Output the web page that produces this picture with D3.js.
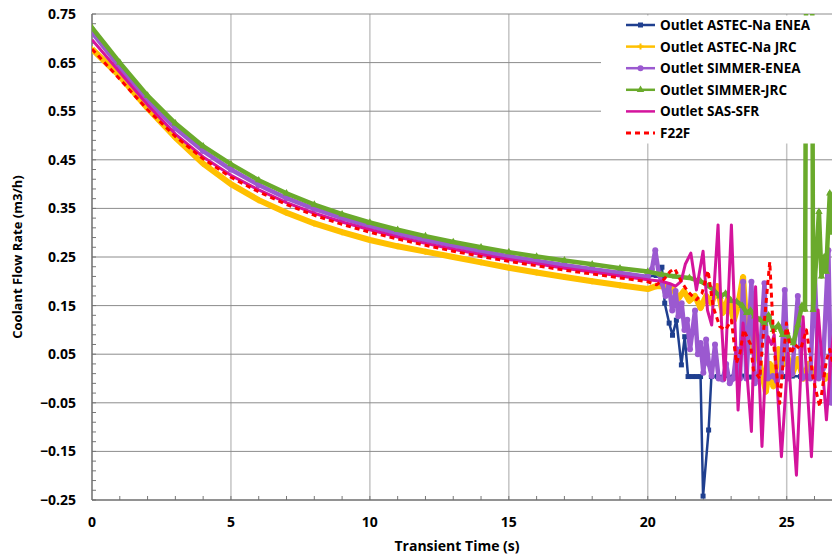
<!DOCTYPE html>
<html>
<head>
<meta charset="utf-8">
<script src="https://cdn.jsdelivr.net/npm/d3@7"></script>
<style>
  body { margin: 0; background: #fff; }
  text { font-family: "Open Sans", "DejaVu Sans", sans-serif; font-weight: 700; fill: #000; }
</style>
</head>
<body>
<svg width="832" height="554"></svg>
<script>
// tick values
const xTicks = [0, 5, 10, 15, 20, 25];
const yTicks = [-0.25, -0.15, -0.05, 0.05, 0.15, 0.25, 0.35, 0.45, 0.55, 0.65, 0.75];

// series data, [time (s), flow (m3/h)]
const astecEnea = [
  [0, 0.713], [1, 0.642], [2, 0.574], [3, 0.516], [4, 0.469], [5, 0.431], [6, 0.399], [7, 0.372],
  [8, 0.350], [9, 0.331], [10, 0.314], [11, 0.299], [12, 0.286], [13, 0.274], [14, 0.263], [15, 0.252],
  [16, 0.243], [17, 0.234], [18, 0.226], [19, 0.218], [20, 0.210], [20.3, 0.212], [20.51, 0.229],
  [20.61, 0.155], [20.77, 0.114], [20.89, 0.089], [21.03, 0.120], [21.21, 0.028], [21.33, 0.086],
  [21.45, 0.004], [21.6, 0.004], [21.75, 0.004], [21.9, 0.004], [21.99, -0.242], [22.19, -0.106],
  [22.29, 0.004], [22.5, 0.004], [22.8, 0.006], [23.1, 0.004], [23.4, 0.005], [23.7, 0.003],
  [24.0, 0.005], [24.3, 0.004], [24.6, 0.006], [24.9, 0.004], [25.2, 0.005], [25.5, 0.004],
  [25.8, 0.005], [26.1, 0.004], [26.4, 0.005], [26.7, 0.004]
];
const astecJrc = [
  [0, 0.678], [1, 0.622], [2, 0.556], [3, 0.496], [4, 0.442], [5, 0.400], [6, 0.367], [7, 0.341],
  [8, 0.319], [9, 0.301], [10, 0.285], [11, 0.272], [12, 0.261], [13, 0.250], [14, 0.239], [15, 0.228],
  [16, 0.218], [17, 0.209], [18, 0.200], [19, 0.192], [20, 0.184], [20.3, 0.19], [20.6, 0.19],
  [20.9, 0.185], [21.1, 0.165], [21.3, 0.18], [21.5, 0.16], [21.7, 0.17], [21.9, 0.145], [22.1, 0.17],
  [22.3, 0.155], [22.5, 0.19], [22.7, 0.135], [22.9, 0.165], [23.1, 0.12], [23.25, 0.15], [23.43, 0.209],
  [23.55, 0.107], [23.7, 0.066], [23.85, 0.10], [24.0, 0.04], [24.25, -0.027], [24.4, 0.03],
  [24.52, -0.016], [24.7, 0.06], [24.9, 0.03], [25.0, 0.05], [25.2, 0.01], [25.4, 0.04], [25.6, 0.0],
  [25.8, 0.03], [26.0, 0.01], [26.2, 0.02], [26.4, 0.0], [26.6, 0.01]
];
const simmerEnea = [
  [0, 0.712], [1, 0.641], [2, 0.573], [3, 0.515], [4, 0.468], [5, 0.430], [6, 0.398], [7, 0.371],
  [8, 0.349], [9, 0.330], [10, 0.313], [11, 0.298], [12, 0.285], [13, 0.273], [14, 0.262], [15, 0.251],
  [16, 0.242], [17, 0.233], [18, 0.225], [19, 0.217], [20, 0.209], [20.15, 0.225], [20.27, 0.264],
  [20.4, 0.215], [20.52, 0.195], [20.64, 0.17], [20.76, 0.19], [20.88, 0.14], [21.0, 0.18], [21.1, 0.128],
  [21.22, 0.155], [21.32, 0.10], [21.42, 0.121], [21.52, 0.06], [21.6, 0.094], [21.7, 0.14], [21.8, 0.05],
  [21.9, 0.073], [22.0, 0.012], [22.1, 0.08], [22.2, 0.03], [22.3, 0.005], [22.42, 0.07], [22.55, 0.0],
  [22.7, -0.002], [22.82, 0.03], [22.95, -0.01], [23.08, 0.0], [23.2, 0.06], [23.32, 0.0], [23.43, 0.199],
  [23.55, 0.0], [23.73, 0.199], [23.85, -0.01], [24.0, 0.01], [24.2, 0.196], [24.32, 0.0], [24.5, 0.005],
  [24.65, -0.005], [24.8, 0.01], [24.93, 0.182], [25.05, 0.0], [25.2, 0.01], [25.4, 0.17], [25.55, 0.0],
  [25.7, 0.005], [25.85, 0.0], [26.0, 0.23], [26.15, 0.0], [26.3, 0.02], [26.5, 0.264], [26.6, -0.05],
  [26.7, 0.1]
];
const simmerJrc = [
  [0, 0.722], [1, 0.650], [2, 0.582], [3, 0.525], [4, 0.478], [5, 0.441], [6, 0.408], [7, 0.381],
  [8, 0.358], [9, 0.338], [10, 0.321], [11, 0.306], [12, 0.293], [13, 0.281], [14, 0.270], [15, 0.260],
  [16, 0.251], [17, 0.243], [18, 0.235], [19, 0.227], [20, 0.220], [20.5, 0.214], [21.0, 0.21],
  [21.5, 0.207], [21.9, 0.20], [22.2, 0.19], [22.4, 0.18], [22.6, 0.169], [22.8, 0.175], [23.0, 0.16],
  [23.2, 0.158], [23.4, 0.15], [23.56, 0.135], [23.7, 0.14], [23.85, 0.128], [24.04, 0.121],
  [24.2, 0.113], [24.35, 0.13], [24.52, 0.10], [24.7, 0.11], [24.85, 0.09], [25.0, 0.096], [25.1, 0.08],
  [25.24, 0.073], [25.4, 0.11], [25.55, 0.15], [25.66, 0.142], [25.72, 1.2], [25.9, 1.2], [25.95, 0.141],
  [26.16, 0.343], [26.25, 0.21], [26.35, 0.25], [26.42, 0.22], [26.55, 0.381], [26.65, 0.3]
];
const sasSfr = [
  [0, 0.697], [1, 0.630], [2, 0.563], [3, 0.503], [4, 0.456], [5, 0.418], [6, 0.388], [7, 0.362],
  [8, 0.340], [9, 0.322], [10, 0.306], [11, 0.291], [12, 0.278], [13, 0.266], [14, 0.255], [15, 0.245],
  [16, 0.236], [17, 0.227], [18, 0.219], [19, 0.211], [20, 0.203], [20.5, 0.20], [20.8, 0.195],
  [21.0, 0.19], [21.2, 0.2], [21.35, 0.235], [21.55, 0.258], [21.75, 0.182], [21.99, 0.262], [22.15, 0.14],
  [22.3, 0.11], [22.53, 0.316], [22.65, 0.12], [22.77, -0.003], [23.01, 0.316], [23.25, -0.065],
  [23.43, 0.114], [23.73, -0.109], [23.88, 0.189], [24.11, -0.14], [24.25, 0.04], [24.33, 0.086],
  [24.45, 0.07], [24.55, 0.09], [24.81, -0.161], [25.05, 0.052], [25.35, -0.199], [25.59, 0.127],
  [25.89, -0.161], [26.13, 0.141], [26.43, -0.085], [26.6, 0.05], [26.7, 0.1]
];
const f22f = [
  [0, 0.678], [1, 0.616], [2, 0.553], [3, 0.498], [4, 0.452], [5, 0.414], [6, 0.384], [7, 0.358],
  [8, 0.336], [9, 0.317], [10, 0.301], [11, 0.287], [12, 0.274], [13, 0.262], [14, 0.251], [15, 0.241],
  [16, 0.232], [17, 0.223], [18, 0.215], [19, 0.207], [20, 0.199], [20.32, 0.193], [20.6, 0.205],
  [20.8, 0.22], [20.97, 0.226], [21.2, 0.2], [21.44, 0.179], [21.6, 0.17], [21.75, 0.162], [21.95, 0.175],
  [22.17, 0.222], [22.35, 0.148], [22.59, 0.107], [22.8, 0.1], [23.01, 0.12], [23.19, 0.031],
  [23.32, 0.053], [23.45, 0.1], [23.56, 0.087], [23.7, 0.07], [23.8, 0.018], [24.03, 0.0], [24.2, 0.12],
  [24.39, 0.240], [24.55, 0.06], [24.75, -0.051], [24.99, 0.114], [25.15, 0.05], [25.3, 0.07],
  [25.5, 0.06], [25.71, 0.1], [25.95, 0.0], [26.19, -0.058], [26.43, 0.038], [26.55, 0.06], [26.7, 0.02]
];

const series = [
  { name: "Outlet ASTEC-Na ENEA", data: astecEnea, color: "#1f3f8f", width: 2.5, marker: "square" },
  { name: "Outlet ASTEC-Na JRC", data: astecJrc, color: "#ffc000", width: 6, marker: "plus" },
  { name: "Outlet SIMMER-ENEA", data: simmerEnea, color: "#9b59d0", width: 4.5, marker: "circle" },
  { name: "Outlet SIMMER-JRC", data: simmerJrc, color: "#6aaa2c", width: 4.5, marker: "triangle" },
  { name: "Outlet SAS-SFR", data: sasSfr, color: "#d4149c", width: 3, marker: null },
  { name: "F22F", data: f22f, color: "#ff0000", width: 3, marker: null, dash: "5,4" }
];

var svg = d3.select("svg"),
    plotL = 92, plotR = 832, plotT = 14, plotB = 500;

var x = d3.scaleLinear().domain([0, 26.63]).range([plotL, plotR]);
var y = d3.scaleLinear().domain([-0.25, 0.75]).range([plotB, plotT]);

svg.append("defs").append("clipPath").attr("id", "plot")
  .append("rect").attr("x", plotL).attr("y", plotT).attr("width", plotR - plotL).attr("height", plotB - plotT);

// grid
svg.append("g").selectAll("line").data(xTicks.slice(1)).enter().append("line")
  .attr("x1", d => x(d)).attr("x2", d => x(d)).attr("y1", plotT).attr("y2", plotB)
  .attr("stroke", "#c4c4c4").attr("stroke-width", 1.5);
svg.append("g").selectAll("line").data(yTicks.slice(1)).enter().append("line")
  .attr("x1", plotL).attr("x2", plotR).attr("y1", d => y(d)).attr("y2", d => y(d))
  .attr("stroke", "#8c8c8c").attr("stroke-width", 1);

// minor ticks
var yMinor = d3.range(0, 51).map(i => -0.25 + i * 0.02);
svg.append("g").selectAll("line").data(yMinor).enter().append("line")
  .attr("x1", plotL).attr("x2", plotL + 4).attr("y1", d => y(d)).attr("y2", d => y(d))
  .attr("stroke", "#777").attr("stroke-width", 1);
var xMinor = d3.range(1, 27);
svg.append("g").selectAll("line").data(xMinor).enter().append("line")
  .attr("x1", d => x(d)).attr("x2", d => x(d)).attr("y1", plotB).attr("y2", plotB - 4)
  .attr("stroke", "#777").attr("stroke-width", 1);

// axes lines
svg.append("line").attr("x1", plotL).attr("x2", plotL).attr("y1", plotT).attr("y2", plotB)
  .attr("stroke", "#6e6e6e").attr("stroke-width", 1.5);
svg.append("line").attr("x1", plotL).attr("x2", plotR).attr("y1", plotB).attr("y2", plotB)
  .attr("stroke", "#6e6e6e").attr("stroke-width", 1.5);

// tick labels
svg.append("g").selectAll("text").data(yTicks).enter().append("text")
  .attr("x", 76).attr("y", d => y(d) + 5).attr("text-anchor", "end").style("font-size", "14px")
  .text(d => d3.format(".2f")(d));
svg.append("g").selectAll("text").data(xTicks).enter().append("text")
  .attr("x", d => x(d)).attr("y", 527).attr("text-anchor", "middle").style("font-size", "14px")
  .text(d => d);

svg.append("text").attr("x", 457).attr("y", 551).attr("text-anchor", "middle")
  .style("font-size", "14px").text("Transient Time (s)");
svg.append("text").attr("transform", "translate(22,257) rotate(-90)").attr("text-anchor", "middle")
  .style("font-size", "13px").text("Coolant Flow Rate (m3/h)");

// series
var line = d3.line().x(d => x(d[0])).y(d => y(d[1]));
var plot = svg.append("g").attr("clip-path", "url(#plot)");

function drawMarker(g, type, color, px, py) {
  if (type === "square") {
    g.append("rect").attr("x", px - 2.5).attr("y", py - 2.5).attr("width", 5).attr("height", 5).attr("fill", color);
  } else if (type === "circle") {
    g.append("circle").attr("cx", px).attr("cy", py).attr("r", 3).attr("fill", color);
  } else if (type === "triangle") {
    g.append("path").attr("d", d3.symbol().type(d3.symbolTriangle).size(24)())
      .attr("transform", "translate(" + px + "," + py + ")").attr("fill", color);
  } else if (type === "plus") {
    g.append("path").attr("d", "M" + (px - 3) + "," + py + "H" + (px + 3) + "M" + px + "," + (py - 3) + "V" + (py + 3))
      .attr("stroke", color).attr("stroke-width", 2);
  }
}

series.forEach(function(s) {
  var g = plot.append("g");
  g.append("path").datum(s.data).attr("d", line).attr("fill", "none")
    .attr("stroke", s.color).attr("stroke-width", s.width)
    .attr("stroke-dasharray", s.dash || null).attr("stroke-linejoin", "round");
  if (s.marker) s.data.forEach(d => drawMarker(g, s.marker, s.color, x(d[0]), y(d[1])));
});

// legend
var legend = svg.append("g");
legend.append("rect").attr("x", 601).attr("y", 15.5).attr("width", 231).attr("height", 128).attr("fill", "#fff");
series.forEach(function(s, i) {
  var cy = 25 + i * 21.6;
  legend.append("line").attr("x1", 626).attr("x2", 655).attr("y1", cy).attr("y2", cy)
    .attr("stroke", s.color).attr("stroke-width", s.dash ? 3 : 2.5).attr("stroke-dasharray", s.dash || null);
  if (s.marker) drawMarker(legend, s.marker, s.color, 640.5, cy);
  legend.append("text").attr("x", 660).attr("y", cy + 5).style("font-size", "13.5px").text(s.name);
});
</script>
</body>
</html>
